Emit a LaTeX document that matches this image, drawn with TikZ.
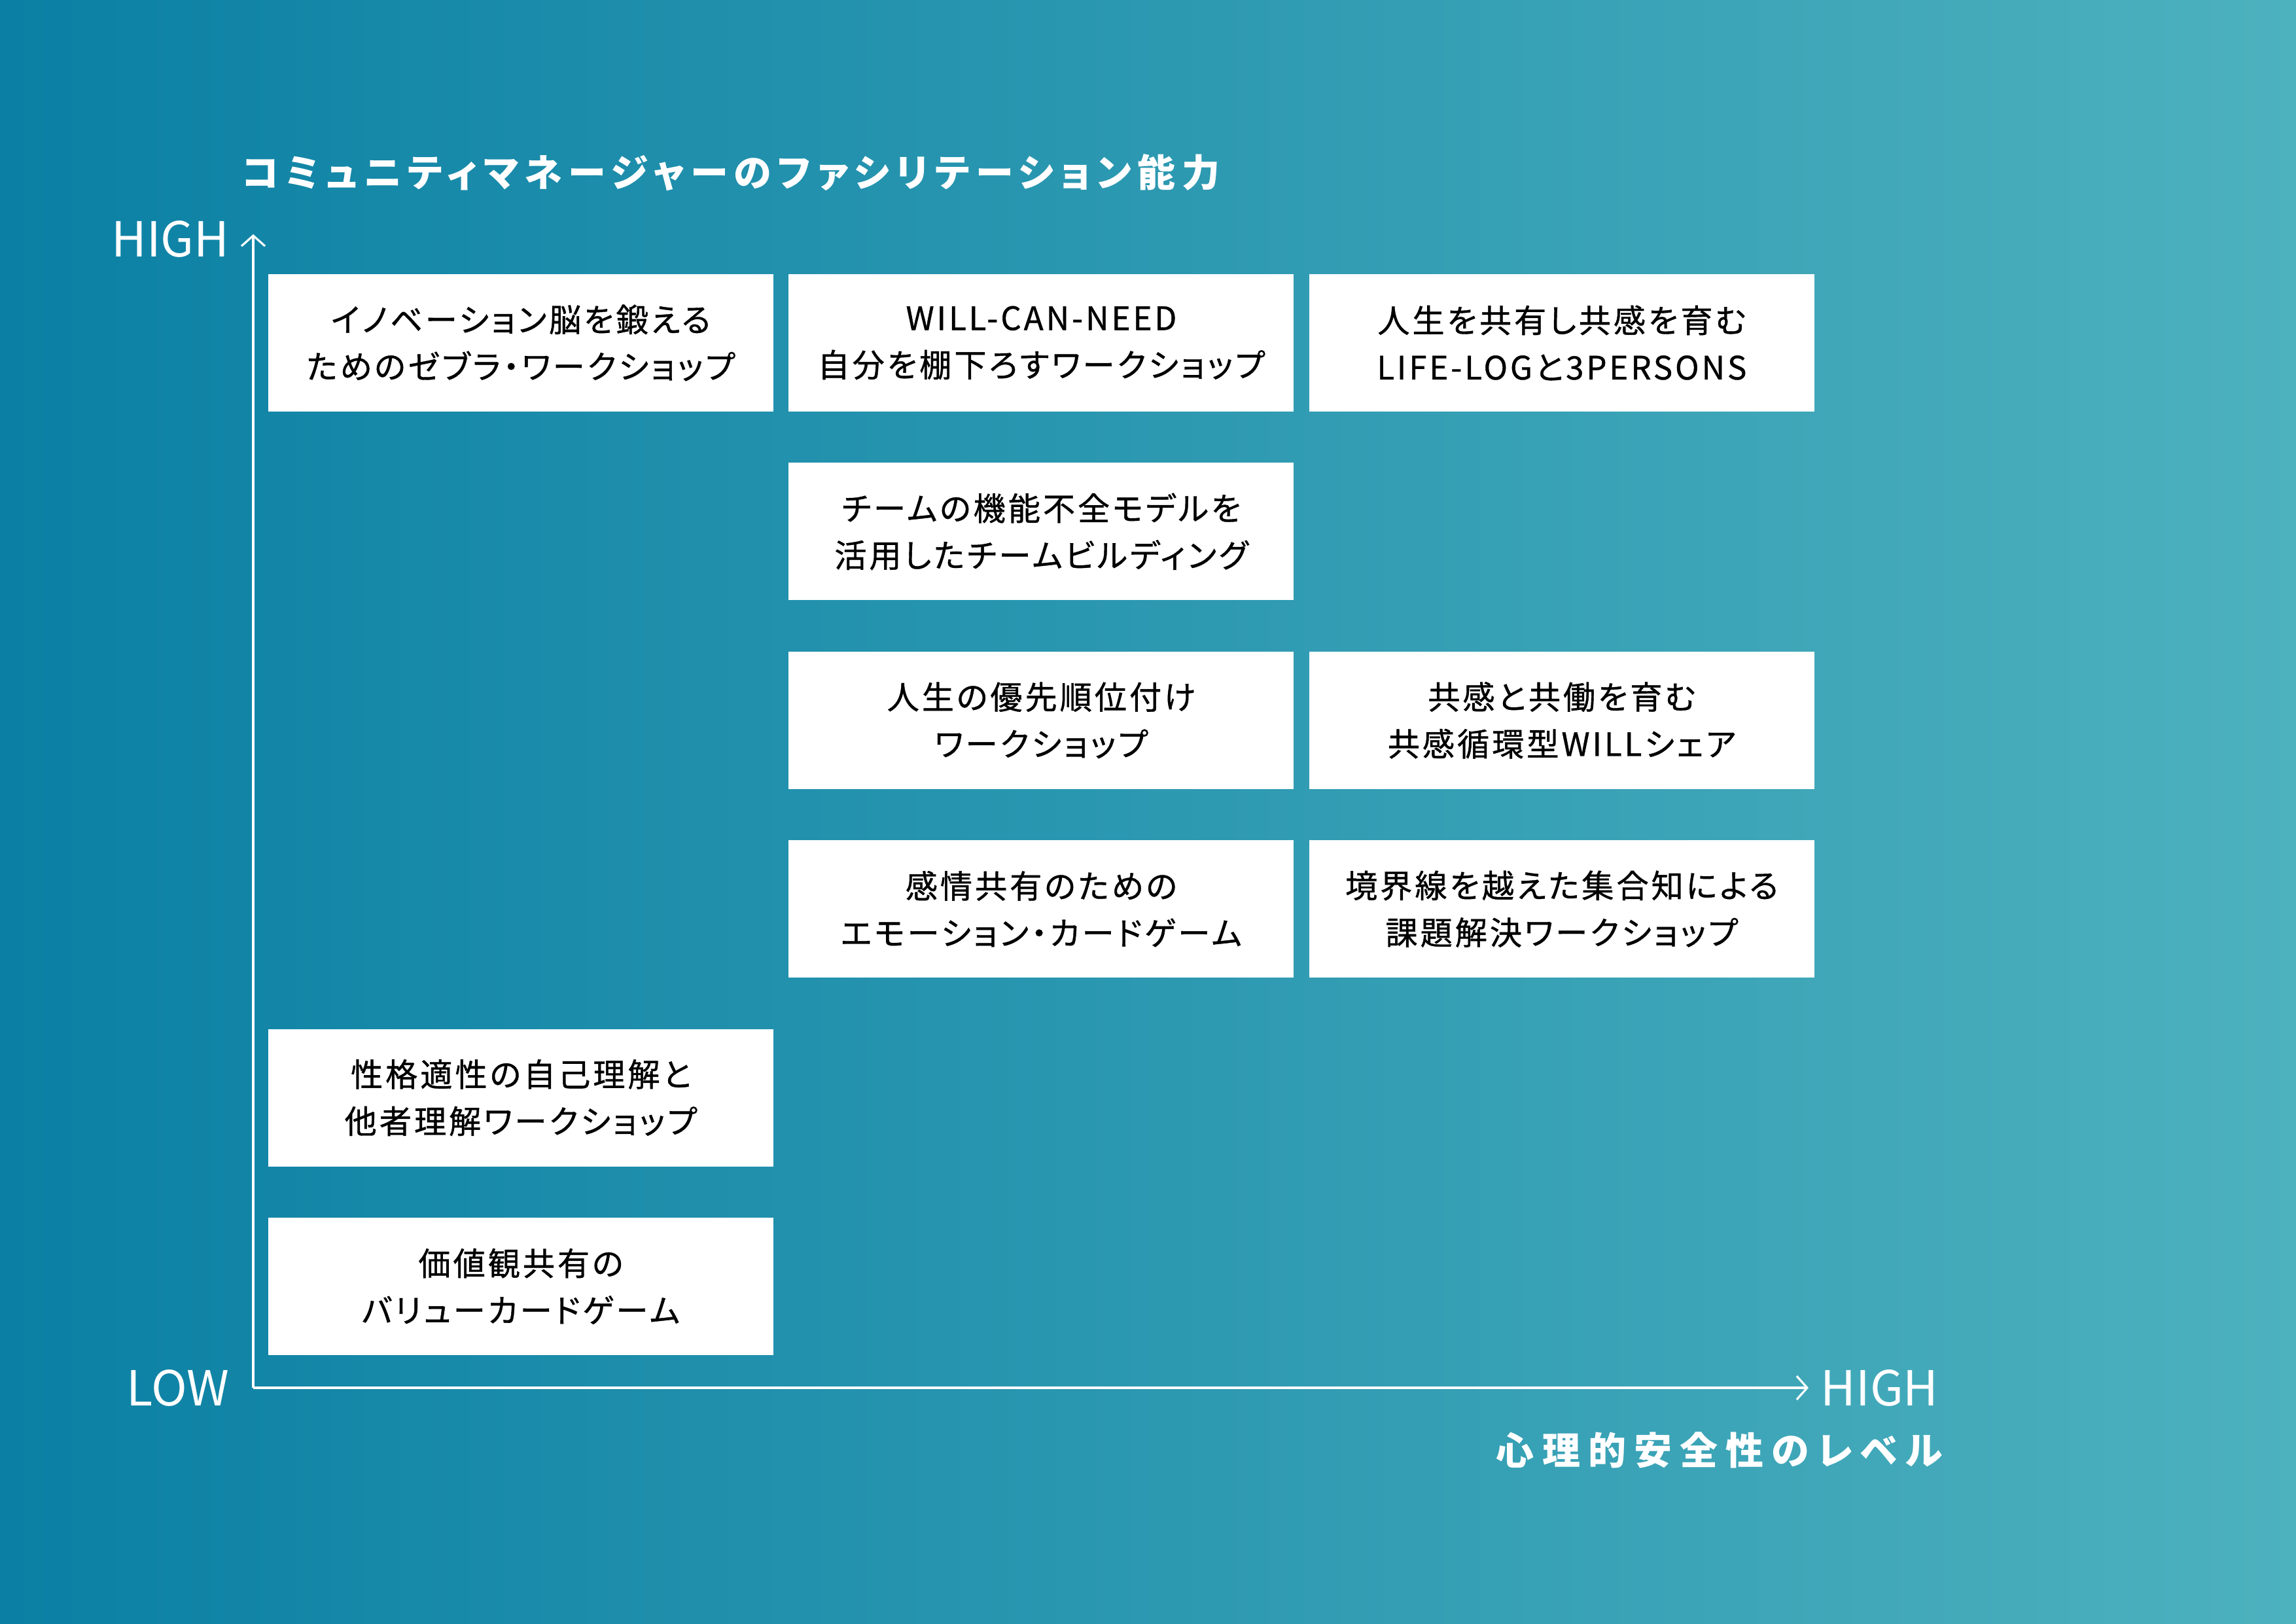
\documentclass[tikz,border=0pt]{standalone}
\usepackage{fontspec}
\setmainfont{Noto Sans CJK JP}[RawFeature={+palt}]
\newfontfamily\boxfont{Noto Sans CJK JP}[RawFeature={+palt}, LetterSpace=8, FakeBold=0.8]
\newfontfamily\headfont{Noto Sans CJK JP}[RawFeature={+palt}, LetterSpace=16.5]
\newfontfamily\labelfont{Noto Sans CJK JP}[RawFeature={+palt}, LetterSpace=21]
\usepackage{xcolor}
\usepackage{tikz}
\usetikzlibrary {
  positioning,
  arrows.meta,
}
\definecolor{bgleft}{HTML}{0B80A4}
\definecolor{bgright}{HTML}{4DB1BE}
\tikzset{
  box/.style = {
    rectangle,
    fill = white,
    text = black,
    minimum width = 7.72cm,
    minimum height = 2.10cm,
    inner sep = 0pt,
    align = center,
    font = \boxfont\fontsize{14}{20.4}\selectfont
  },
  axis/.style = {
    draw = white,
    line width = 0.9pt,
    -{Straight Barb[length = 1.6mm, width = 3.6mm]}
  },
  level/.style = {
    text = white,
    inner sep = 0pt,
    font = \fontsize{21}{24}\selectfont
  },
  head/.style = {
    text = white,
    inner sep = 0pt,
    font = \headfont\bfseries\fontsize{16.5}{20}\selectfont
  },
}

\begin{document}
\begin{tikzpicture}
  \shade[left color = bgleft, right color = bgright] (0,0) rectangle (35.09,24.81);
  \useasboundingbox (0,0) rectangle (35.09,24.81);
  \node[box] (inno) at (7.96,19.57) {イノベーション脳を鍛える\\ためのゼブラ・ワークショップ};
  \node[box, right = 0.22cm of inno] (will) {WILL-CAN-NEED\\自分を棚下ろすワークショップ};
  \node[box, right = 0.22cm of will] (life) {人生を共有し共感を育む\\LIFE-LOGと3PERSONS};
  \node[box, below = 0.77cm of will] (team) {チームの機能不全モデルを\\活用したチームビルディング};
  \node[box, below = 0.77cm of team] (prio) {人生の優先順位付け\\ワークショップ};
  \node[box, right = 0.22cm of prio] (kyokan) {共感と共働を育む\\共感循環型WILLシェア};
  \node[box, below = 0.77cm of prio] (emo) {感情共有のための\\エモーション・カードゲーム};
  \node[box, right = 0.22cm of emo] (kyokai) {境界線を越えた集合知による\\課題解決ワークショップ};
  \node[box, below left = 0.77cm and 0.22cm of emo] (seikaku) {性格適性の自己理解と\\他者理解ワークショップ};
  \node[box, below = 0.77cm of seikaku] (value) {価値観共有の\\バリューカードゲーム};
  \coordinate (origin) at (3.87,3.60);
  \coordinate (ytop) at (3.87,21.23);
  \coordinate (xend) at (27.64,3.60);
  \draw[axis] (origin) -- (ytop);
  \draw[axis] (origin) -- (xend);
  \node[level, anchor = east] (yhigh) at (3.51,21.16) {HIGH};
  \node[level, anchor = east] (low) at (3.51,3.60) {LOW};
  \node[level, anchor = west] (xhigh) at (27.82,3.60) {HIGH};
  \node[head, anchor = west] (ytitle) at (3.69,22.17) {コミュニティマネージャーのファシリテーション能力};
  \node[head, anchor = east, font = \labelfont\bfseries\fontsize{16.5}{20}\selectfont] (xtitle) at (29.70,2.65) {心理的安全性のレベル};
\end{tikzpicture}
\end{document}
